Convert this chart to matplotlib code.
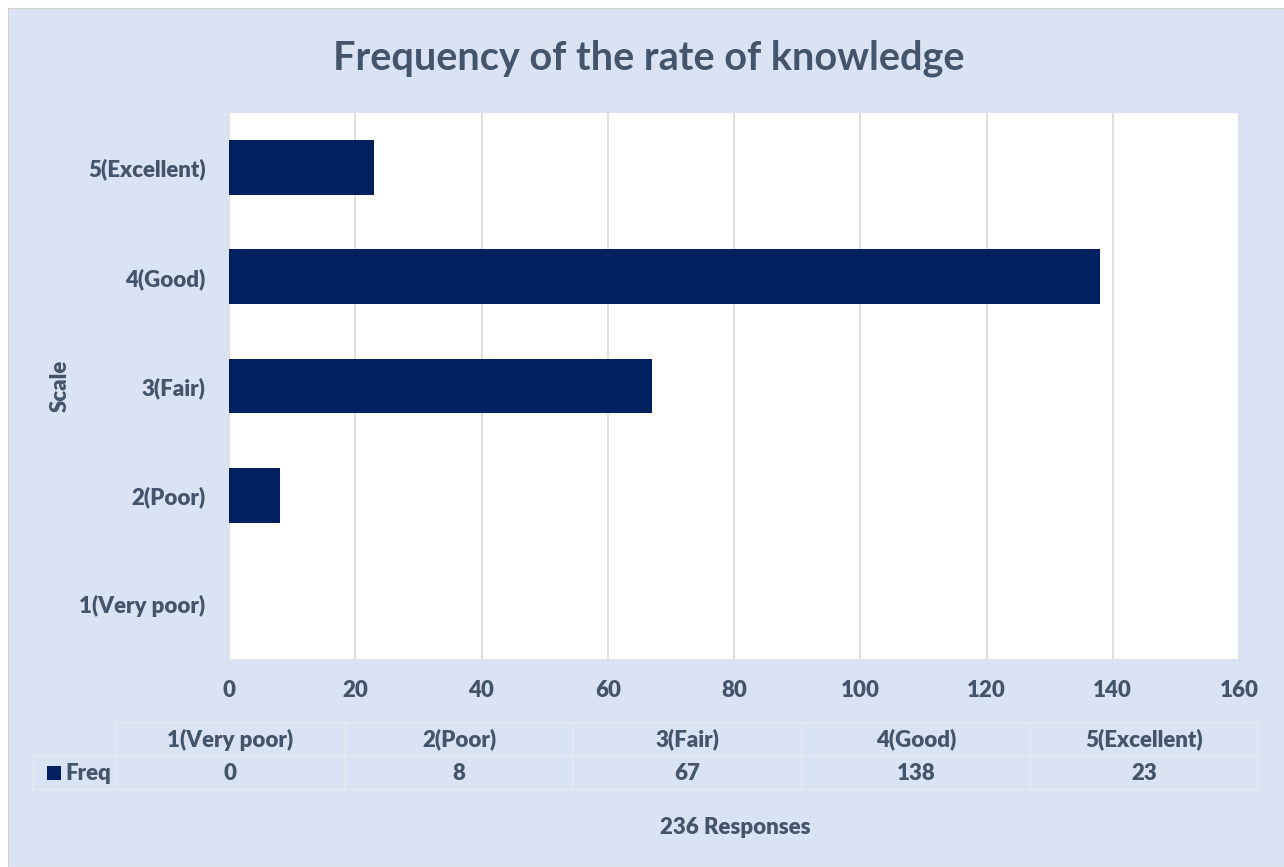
import matplotlib.pyplot as plt
from matplotlib.patches import Rectangle

# data
categories = ['1(Very poor)', '2(Poor)', '3(Fair)', '4(Good)', '5(Excellent)']
freq = [0, 8, 67, 138, 23]
x_ticks = [0, 20, 40, 60, 80, 100, 120, 140, 160]

bg = '#DAE3F3'
navy = '#002060'
txt = '#44546A'
fs = 16

plt.rcParams['font.family'] = ['Lato', 'DejaVu Sans']
plt.rcParams['font.weight'] = 'bold'

fig = plt.figure(figsize=(12.84, 8.67), dpi=100)
fig.patch.set_facecolor('white')
fig.patches.append(Rectangle((8/1284, 0), 1, 1 - 8/867, transform=fig.transFigure,
                             facecolor=bg, edgecolor='#D0D0D0', lw=0.8, zorder=-10))

ax = fig.add_axes([229/1284, 1-659/867, 1010/1284, 546/867])
ax.set_facecolor('white')
ax.barh(range(len(categories)), freq, height=0.5, color=navy, zorder=3)
ax.set_xlim(0, 160)
ax.set_ylim(-0.5, 4.5)
ax.set_xticks(x_ticks)
ax.set_xticklabels([str(t) for t in x_ticks], fontweight='heavy')
ax.set_yticks(range(len(categories)))
ax.set_yticklabels(categories, fontweight='heavy')
ax.grid(axis='x', color='#D9D9D9', lw=1.2, zorder=0)
for s in ax.spines.values():
    s.set_visible(False)
ax.tick_params(length=0, labelsize=fs, labelcolor=txt, pad=17)
ax.tick_params(axis='x', pad=15)

fig.text(0.505, 1-58/867, 'Frequency of the rate of knowledge', ha='center', va='center',
         fontsize=28.5, fontweight='bold', color=txt)
fig.text(60/1284, 1-386/867, 'Scale', rotation=90, ha='center', va='center',
         fontsize=fs, fontweight='heavy', color=txt)

# data table below the chart
col_edges = [116, 345, 573, 802, 1030, 1258]
y_top, y_mid, y_bot = 723, 756, 790
H = 867
line_c = '#E4E9F2'
def fx(px):
    return px/1284
def fy(py):
    return 1 - py/H
for y in [y_top, y_mid, y_bot]:
    x0 = 33 if y != y_top else col_edges[0]
    fig.add_artist(plt.Line2D([fx(x0), fx(col_edges[-1])], [fy(y), fy(y)], color=line_c, lw=1.2))
for x in col_edges:
    fig.add_artist(plt.Line2D([fx(x), fx(x)], [fy(y_top), fy(y_bot)], color=line_c, lw=1.2))
fig.add_artist(plt.Line2D([fx(33), fx(33)], [fy(y_mid), fy(y_bot)], color=line_c, lw=1.2))
for i, (c, v) in enumerate(zip(categories, freq)):
    cx = (col_edges[i] + col_edges[i+1]) / 2
    fig.text(fx(cx), fy((y_top+y_mid)/2), c, ha='center', va='center',
             fontsize=fs, fontweight='heavy', color=txt)
    fig.text(fx(cx), fy((y_mid+y_bot)/2), str(v), ha='center', va='center',
             fontsize=fs, fontweight='heavy', color=txt)
fig.patches.append(Rectangle((fx(47), fy(780)), 14/1284, 14/H, transform=fig.transFigure,
                             facecolor=navy, edgecolor='none'))
fig.text(fx(65), fy(773), 'Freq', ha='left', va='center', fontsize=fs, fontweight='heavy', color=txt)

fig.text(fx(735), fy(828), '236 Responses', ha='center', va='center',
         fontsize=fs, fontweight='heavy', color=txt)

fig.savefig('out.png', dpi=100, facecolor=fig.get_facecolor())
